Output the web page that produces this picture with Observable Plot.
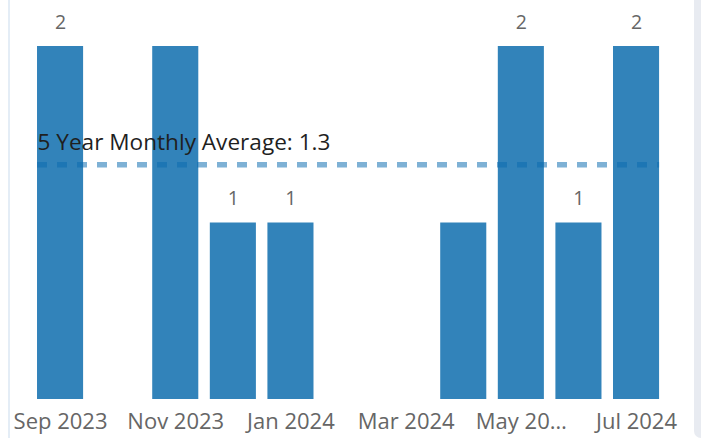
<!DOCTYPE html>
<html>
<head>
<meta charset="utf-8">
<script src="https://cdn.jsdelivr.net/npm/d3@7"></script>
<script src="https://cdn.jsdelivr.net/npm/@observablehq/plot@0.6"></script>
<style>
  html, body { margin: 0; padding: 0; background: #ffffff; }
  #wrap { position: relative; width: 701px; height: 438px; overflow: hidden; }
  #leftline { position: absolute; left: 8px; top: 0; width: 2px; height: 438px; background: #e4edf6; }
  #rightpane { position: absolute; left: 694px; top: 0; width: 7px; height: 438px; background: #e8ebf1; border-bottom-left-radius: 18px; }
  #chart { position: absolute; left: 0; top: 0; }
  svg text { font-family: "Open Sans", "Noto Sans", sans-serif; }
</style>
</head>
<body>
<div id="wrap">
  <div id="leftline"></div>
  <div id="rightpane"></div>
  <div id="chart"></div>
</div>
<script>
// Months on the category axis
const months = ["Sep 2023", "Oct 2023", "Nov 2023", "Dec 2023", "Jan 2024", "Feb 2024",
                "Mar 2024", "Apr 2024", "May 2024", "Jun 2024", "Jul 2024"];
// Monthly counts (null = no data)
const counts = [2, null, 2, 1, 1, null, null, 1, 2, 1, 2];
// Months whose data labels are visible in the reference
const labelledMonths = ["Sep 2023", "Dec 2023", "Jan 2024", "May 2024", "Jun 2024", "Jul 2024"];
// Axis ticks and their labels
const tickMonths = ["Sep 2023", "Nov 2023", "Jan 2024", "Mar 2024", "May 2024", "Jul 2024"];
const tickLabels = ["Sep 2023", "Nov 2023", "Jan 2024", "Mar 2024", "May 20\u2026", "Jul 2024"];
// Reference line
const averageValue = 1.33;
const averageLabel = "5 Year Monthly Average: 1.3";

const data = months.map((m, i) => ({month: m, count: counts[i]}));
const bars = data.filter(d => d.count != null);
const labels = bars.filter(d => labelledMonths.includes(d.month));
const tickLabelOf = new Map(tickMonths.map((m, i) => [m, tickLabels[i]]));

const chart = Plot.plot({
  width: 701,
  height: 438,
  marginLeft: 25.5,
  marginRight: 30.4,
  marginTop: 46,
  marginBottom: 39,
  style: {background: "transparent", overflow: "visible"},
  x: {type: "band", domain: months, padding: 0.2, round: false, axis: null},
  y: {domain: [0, 2], axis: null},
  marks: [
    Plot.barY(bars, {x: "month", y: "count", fill: "#3283ba"}),
    Plot.ruleY([averageValue], {
      stroke: "#0c6baf", strokeOpacity: 0.53, strokeWidth: 5.5,
      strokeDasharray: "10,10", insetLeft: 11.5, insetRight: 11.5
    }),
    Plot.text([averageValue], {
      y: d => d, text: () => averageLabel, frameAnchor: "left", textAnchor: "start",
      dx: 11.5, dy: -15, lineAnchor: "bottom", fontSize: 22.6, fill: "#1f1f1f"
    }),
    Plot.text(labels, {
      x: "month", y: "count", text: d => String(d.count),
      lineAnchor: "bottom", dy: -18, fontSize: 19.5, fill: "#666666"
    }),
    Plot.axisX({
      ticks: tickMonths, tickFormat: d => tickLabelOf.get(d), tickSize: 0,
      tickPadding: 14, fontSize: 22, color: "#666666", label: null
    })
  ]
});
document.getElementById("chart").appendChild(chart);
</script>
</body>
</html>
